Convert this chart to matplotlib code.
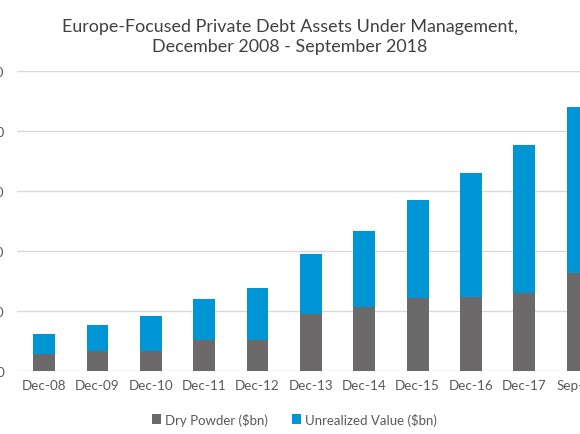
import matplotlib.pyplot as plt
import numpy as np

plt.rcParams['font.family'] = ['Lato', 'DejaVu Sans']

periods = ["Dec-08", "Dec-09", "Dec-10", "Dec-11", "Dec-12", "Dec-13",
           "Dec-14", "Dec-15", "Dec-16", "Dec-17", "Sep-18"]
dry_powder = [14, 16.5, 17, 26, 25.5, 47.5, 53.5, 61, 61.5, 65, 82]
unrealized = [16.5, 21.5, 29, 34, 43.5, 50, 63.5, 81.5, 103.5, 123, 138]
y_ticks = [0, 50, 100, 150, 200, 250]

gray = "#6b6969"
blue = "#0096d6"

fig = plt.figure(figsize=(5.8, 4.35), dpi=100)
ax = fig.add_axes([0.030, 0.1448, 1.012, 0.690])

x = np.arange(len(periods))
ax.bar(x, dry_powder, width=0.41, color=gray, label="Dry Powder ($bn)", zorder=3)
ax.bar(x, unrealized, width=0.41, bottom=dry_powder, color=blue,
       label="Unrealized Value ($bn)", zorder=3)

ax.set_xlim(-0.5, len(periods) - 0.5)
ax.set_ylim(0, 250)
ax.set_yticks(y_ticks)
ax.set_xticks(x)
ax.set_xticklabels(periods)
ax.grid(axis='y', color="#d9d9d9", linewidth=1, zorder=0)
for s in ax.spines.values():
    s.set_visible(False)
ax.tick_params(axis='both', length=0, labelsize=9.7, colors="#595959")
ax.tick_params(axis='y', pad=9.5)
ax.tick_params(axis='x', pad=6)

fig.text(0.5, 0.915, "Europe-Focused Private Debt Assets Under Management,\nDecember 2008 - September 2018",
         ha='center', va='center', fontsize=12.9, color="#404040", linespacing=1.3)

fig.legend(loc='center', bbox_to_anchor=(0.508, 0.034), ncol=2, frameon=False,
           fontsize=9.5, handlelength=0.7, handleheight=0.7, columnspacing=1.8,
           handletextpad=0.3, labelcolor="#595959")

fig.savefig("out.png", dpi=100)
